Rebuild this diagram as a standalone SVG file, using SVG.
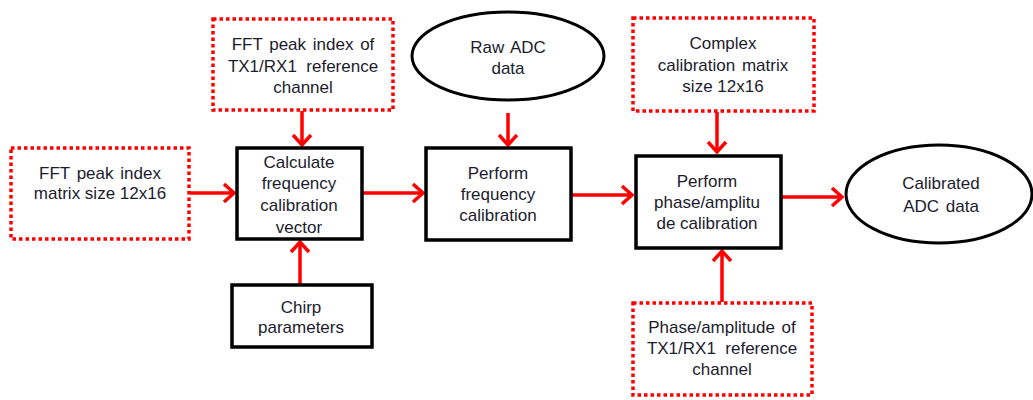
<svg xmlns="http://www.w3.org/2000/svg" width="1033" height="400" viewBox="0 0 1033 400">
<style>
text{font-family:"Liberation Sans",Arial,sans-serif;font-size:17px;fill:#1c1c2e;text-anchor:middle;white-space:pre}
.ws{word-spacing:2px}
.dot{fill:#fff;stroke:#ff0000;stroke-width:3.5;stroke-dasharray:3.5 3}
.blk{fill:#fff;stroke:#000;stroke-width:3.5}
.ell{fill:#fff;stroke:#000;stroke-width:3}
.arr{stroke:#ff0000;stroke-width:3.5;fill:none;marker-end:url(#ah)}
</style>
<defs>
<marker id="ah" markerUnits="userSpaceOnUse" markerWidth="24" markerHeight="24" refX="13" refY="12" orient="auto">
<path d="M3,3 L13,12 L3,21" fill="none" stroke="#ff0000" stroke-width="3.5"/>
</marker>
</defs>
<rect width="1033" height="400" fill="#fff"/>
<g id="connectors">
<line class="arr" x1="190" y1="193" x2="234" y2="193"/>
<line class="arr" x1="302" y1="111" x2="302" y2="145"/>
<line class="arr" x1="300" y1="285" x2="300" y2="242"/>
<line class="arr" x1="363" y1="193" x2="423" y2="193"/>
<line class="arr" x1="508" y1="113" x2="508" y2="145"/>
<line class="arr" x1="572" y1="195" x2="632" y2="195"/>
<line class="arr" x1="717" y1="112" x2="717" y2="152"/>
<line class="arr" x1="722" y1="302" x2="722" y2="251"/>
<line class="arr" x1="782" y1="197" x2="842" y2="197"/>
</g>
<g id="n_fft_ref">
<rect class="dot" x="213" y="19" width="180" height="91"/>
<text class="ws" x="303" y="50">FFT peak index of</text>
<text x="303" y="72">TX1/RX1  reference</text>
<text x="303" y="93">channel</text>
</g>
<g id="n_fft_matrix">
<rect class="dot" x="11" y="148" width="178" height="91"/>
<text class="ws" x="100" y="179">FFT peak index</text>
<text x="100" y="199">matrix size 12x16</text>
</g>
<g id="n_calc">
<rect class="blk" x="237" y="148" width="125" height="91"/>
<text x="299" y="168">Calculate</text>
<text x="299" y="189">frequency</text>
<text x="299" y="211">calibration</text>
<text x="299" y="233">vector</text>
</g>
<g id="n_chirp">
<rect class="blk" x="232" y="285" width="140" height="62"/>
<text x="301" y="313">Chirp</text>
<text x="301" y="333">parameters</text>
</g>
<g id="n_raw">
<ellipse class="ell" cx="508" cy="56" rx="96" ry="44"/>
<text class="ws" x="508" y="53">Raw ADC</text>
<text x="508" y="74">data</text>
</g>
<g id="n_freq">
<rect class="blk" x="426" y="148" width="145" height="92"/>
<text x="498" y="179">Perform</text>
<text x="498" y="200">frequency</text>
<text x="498" y="221">calibration</text>
</g>
<g id="n_complex">
<rect class="dot" x="633" y="18" width="181" height="93"/>
<text x="723" y="49">Complex</text>
<text class="ws" x="723" y="71">calibration matrix</text>
<text x="723" y="92">size 12x16</text>
</g>
<g id="n_phase">
<rect class="blk" x="636" y="156" width="145" height="92"/>
<text x="707" y="187">Perform</text>
<text x="707" y="208">phase/amplitu</text>
<text x="707" y="229">de calibration</text>
</g>
<g id="n_calibrated">
<ellipse class="ell" cx="939" cy="194" rx="93" ry="49"/>
<text x="941" y="189">Calibrated</text>
<text class="ws" x="941" y="212">ADC data</text>
</g>
<g id="n_phase_ref">
<rect class="dot" x="633" y="303" width="179" height="92"/>
<text class="ws" x="722" y="333">Phase/amplitude of</text>
<text x="722" y="354">TX1/RX1  reference</text>
<text x="722" y="375">channel</text>
</g>
</svg>
